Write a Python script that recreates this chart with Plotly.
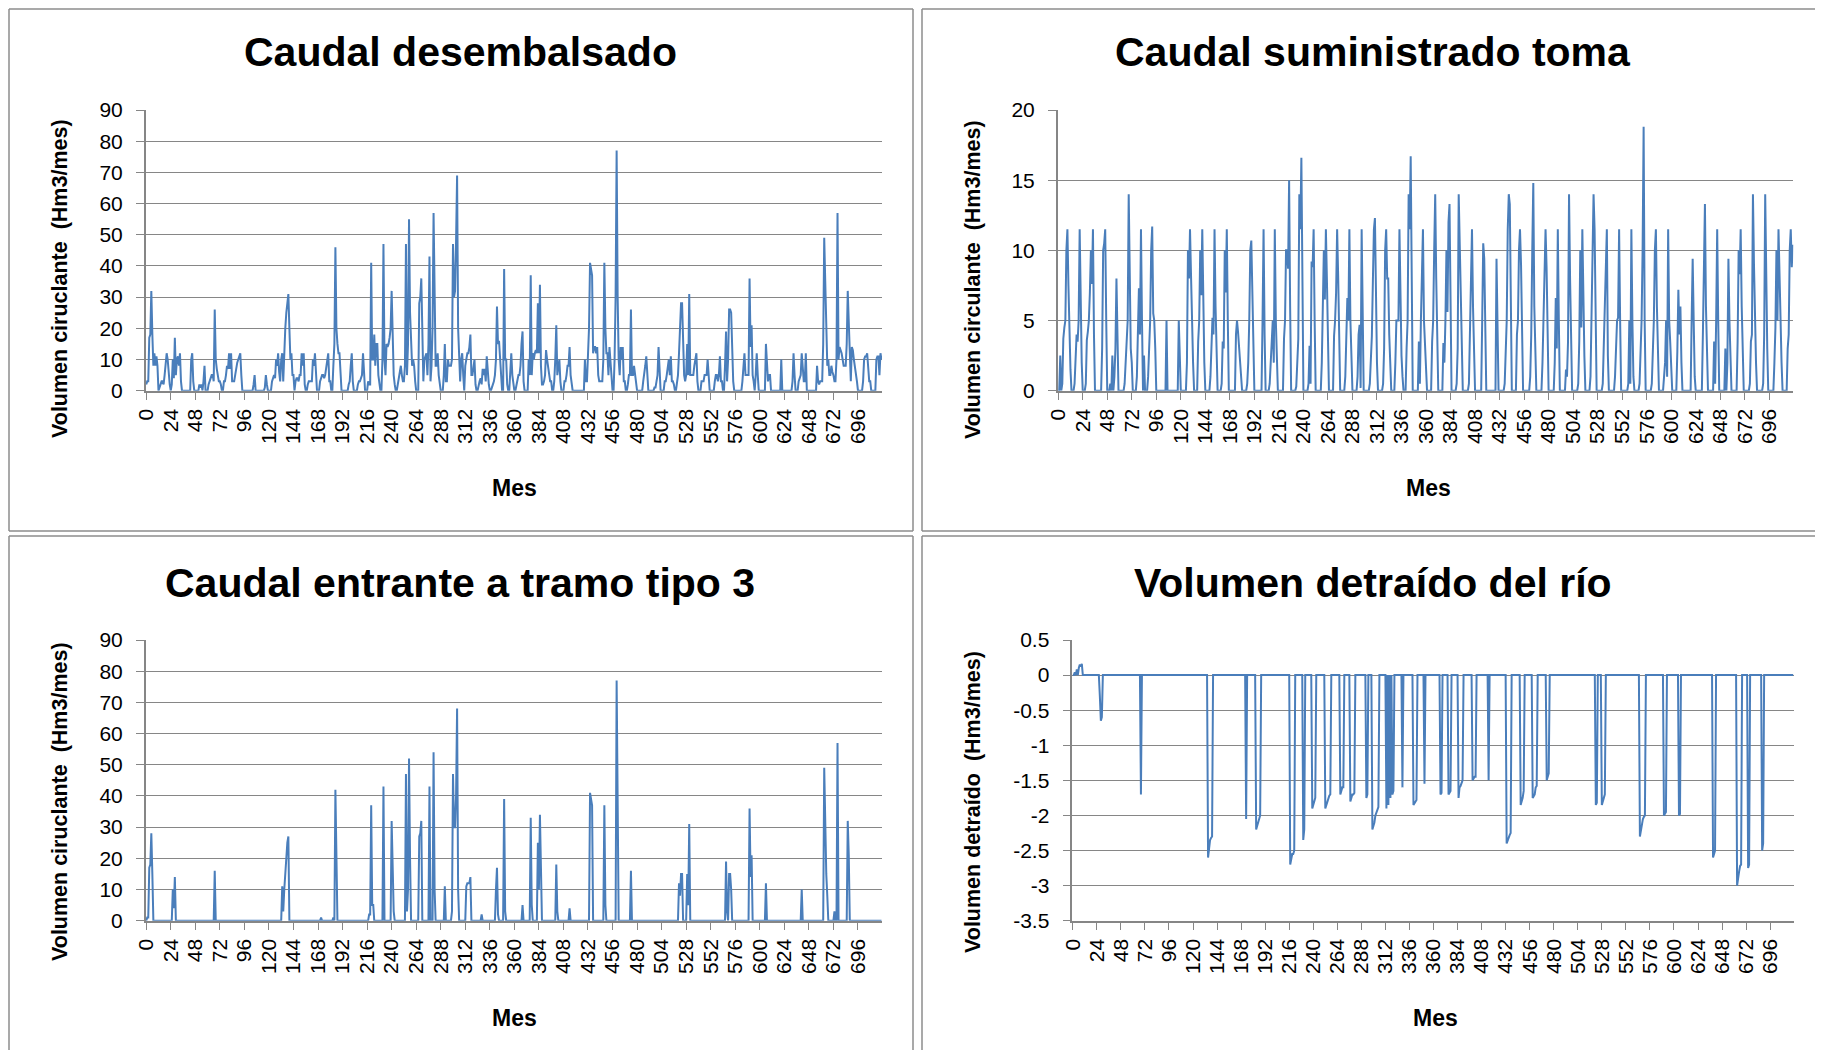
import plotly.graph_objects as go

# ---------------- data (monthly, 720 months) ----------------
meses = list(range(720))
tick_meses = list(range(0, 720, 24))

# Caudal desembalsado (Hm3/mes), 12 values per line = one year
caudal_desembalsado = [
    2, 3, 3, 17, 18, 32, 18, 8, 12, 8, 11, 8,
    0, 1, 2, 3, 3, 2, 5, 8, 12, 10, 5, 2,
    0, 2, 10, 4, 17, 5, 10, 11, 8, 12, 3, 0,
    0, 0, 0, 0, 0, 0, 0, 0, 10, 12, 3, 0,
    0, 0, 0, 0, 2, 1, 2, 0, 3, 8, 0, 0,
    0, 2, 3, 4, 5, 5, 3, 26, 10, 7, 5, 3,
    3, 2, 0, 0, 3, 3, 5, 8, 7, 12, 7, 12,
    3, 3, 3, 5, 8, 9, 10, 11, 12, 5, 0, 0,
    0, 0, 0, 0, 0, 0, 0, 0, 0, 2, 5, 0,
    0, 0, 0, 0, 0, 0, 0, 0, 1, 5, 2, 0,
    0, 0, 0, 3, 4, 5, 4, 10, 8, 12, 6, 3,
    10, 12, 3, 16, 20, 25, 28, 31, 20, 10, 12, 5,
    5, 0, 3, 4, 4, 3, 5, 5, 12, 8, 12, 2,
    0, 0, 2, 3, 3, 3, 3, 10, 8, 12, 5, 0,
    0, 0, 3, 4, 5, 5, 4, 5, 8, 10, 12, 3,
    3, 0, 0, 8, 15, 46, 20, 15, 12, 12, 5, 0,
    0, 0, 0, 0, 0, 0, 2, 3, 8, 12, 3, 0,
    0, 0, 0, 2, 3, 3, 4, 5, 12, 5, 0, 0,
    0, 3, 2, 2, 41, 10, 10, 18, 8, 15, 15, 5,
    3, 0, 0, 10, 47, 10, 5, 15, 14, 15, 17, 20,
    32, 20, 5, 2, 0, 0, 2, 3, 5, 8, 5, 3,
    3, 8, 47, 5, 15, 55, 25, 12, 8, 10, 8, 3,
    0, 0, 0, 28, 30, 36, 20, 3, 10, 11, 12, 5,
    15, 43, 3, 8, 20, 57, 30, 8, 8, 12, 5, 3,
    0, 0, 0, 5, 15, 3, 3, 10, 8, 8, 8, 10,
    47, 30, 32, 48, 69, 20, 8, 3, 10, 12, 5, 0,
    8, 11, 12, 12, 14, 18, 5, 5, 8, 10, 2, 0,
    0, 2, 3, 4, 2, 7, 5, 7, 3, 11, 5, 2,
    0, 0, 1, 2, 3, 5, 10, 27, 15, 16, 10, 3,
    0, 0, 39, 10, 10, 2, 0, 0, 5, 12, 5, 2,
    0, 0, 2, 3, 5, 5, 8, 15, 19, 3, 0, 0,
    0, 0, 10, 5, 37, 5, 12, 10, 12, 13, 12, 28,
    12, 34, 8, 2, 2, 3, 5, 13, 10, 8, 5, 3,
    3, 0, 0, 3, 10, 21, 5, 8, 10, 3, 0, 0,
    0, 3, 3, 5, 8, 8, 14, 5, 2, 0, 0, 0,
    0, 0, 0, 0, 0, 0, 0, 0, 0, 10, 3, 3,
    10, 20, 41, 38, 37, 12, 14, 14, 12, 14, 5, 3,
    3, 3, 3, 10, 41, 20, 12, 12, 5, 14, 10, 5,
    0, 0, 10, 30, 77, 30, 10, 5, 14, 10, 14, 3,
    3, 0, 0, 2, 5, 5, 26, 5, 5, 8, 5, 3,
    0, 0, 0, 0, 0, 0, 3, 5, 8, 11, 5, 0,
    0, 0, 0, 0, 0, 1, 1, 3, 5, 14, 3, 0,
    0, 0, 0, 3, 3, 5, 8, 10, 5, 11, 3, 3,
    2, 0, 0, 3, 5, 12, 20, 28, 28, 10, 5, 3,
    5, 15, 5, 31, 5, 5, 5, 5, 8, 10, 12, 3,
    0, 0, 0, 3, 3, 3, 5, 5, 5, 10, 3, 0,
    0, 0, 0, 0, 3, 5, 5, 3, 5, 11, 3, 3,
    0, 0, 8, 19, 3, 10, 26, 26, 25, 14, 3, 0,
    0, 0, 0, 0, 0, 0, 0, 3, 10, 12, 5, 5,
    5, 5, 36, 14, 21, 5, 3, 0, 5, 12, 5, 0,
    0, 0, 0, 0, 0, 0, 15, 10, 3, 5, 5, 0,
    0, 0, 0, 0, 0, 0, 0, 0, 0, 10, 0, 0,
    0, 0, 0, 0, 0, 0, 0, 0, 3, 12, 5, 0,
    0, 0, 3, 4, 5, 12, 5, 3, 3, 12, 0, 0,
    0, 0, 0, 0, 0, 0, 0, 0, 8, 3, 2, 3,
    3, 3, 15, 49, 35, 20, 8, 10, 5, 5, 8, 6,
    5, 3, 3, 10, 57, 10, 14, 13, 12, 10, 8, 8,
    8, 15, 32, 22, 10, 3, 14, 13, 10, 8, 5, 3,
    0, 0, 0, 0, 0, 3, 10, 11, 11, 12, 8, 3,
    3, 0, 0, 0, 0, 0, 10, 11, 11, 5, 12, 10,
]

# Caudal suministrado toma (Hm3/mes), one year per line
caudal_suministrado = [
    0, 0, 2.5, 0, 0.5, 3.7, 4.5, 5, 10, 11.5, 7.5, 3,
    1.5, 0, 0, 0, 0.5, 2.8, 4, 3.5, 5, 11.5, 6, 2,
    0, 0, 0, 0.5, 3.6, 4.2, 5, 7, 10, 7.6, 11.5, 4,
    0, 0, 0, 0, 0, 0, 0, 3, 10, 10.5, 11.5, 5,
    0, 0, 0, 0.5, 0, 2.5, 0, 1, 3, 8, 3, 0,
    0, 0, 0, 0, 0, 0.5, 2, 3.5, 5, 14, 8, 3,
    2, 0, 0, 0, 0, 1, 3.5, 7.3, 4, 11.5, 5, 0,
    2.5, 0, 0, 0, 1, 3.5, 5, 10, 11.7, 5.5, 5, 3,
    0, 0, 0, 0, 0, 0, 0, 0, 0, 0, 5, 0,
    0, 0, 0, 0, 0, 0, 0, 0, 0, 0, 5, 2.5,
    0, 0, 0, 0, 0, 0, 2, 10, 8, 11.5, 8.2, 4,
    2, 0, 0, 0, 0, 3.5, 5, 10, 6.8, 11.5, 5, 2,
    0, 0, 0, 0, 0, 1, 3, 5.2, 4, 11.5, 6, 2,
    0, 0, 0, 0, 0.5, 3.5, 3, 10, 7, 11.5, 5, 0,
    0, 0, 0, 0, 0, 0, 4, 5, 4.2, 3, 2, 1,
    0, 0, 0, 0, 0, 0.5, 2, 5, 10, 10.7, 6, 2,
    0, 0, 0, 0, 0, 0, 0, 0, 5, 11.5, 4, 0,
    0, 0, 0, 0.5, 2, 3.5, 5, 2, 11.5, 5, 2.5, 0,
    0, 0, 0, 0, 0, 3.7, 5, 10, 10, 8.7, 15, 6,
    0, 0, 0, 0, 0, 0.3, 2, 3.7, 14, 11.5, 16.6, 5,
    0, 0, 0, 0, 0, 0.5, 3.2, 0.5, 9.2, 8.8, 11.5, 5,
    0, 0, 0, 0, 0, 0, 2, 5, 10, 6.5, 11.5, 7.9,
    3, 0, 0, 0, 0, 0, 3.9, 5, 7, 11.5, 8.2, 3,
    0, 0, 0, 0, 0, 1, 4, 6.6, 5, 11.5, 5, 2,
    0, 0, 0, 0, 0, 1, 4, 4.7, 0.2, 11.5, 5, 0,
    0, 0, 0, 0, 0, 0.5, 2, 3.9, 7.8, 11.5, 12.3, 5,
    2, 0, 0, 0, 0, 0, 0.5, 3, 10, 11.5, 8, 8,
    4, 2, 0, 0, 0, 0, 2, 5, 5, 5, 11.5, 5,
    2.5, 1, 0, 0, 0, 3, 5, 14, 11.5, 16.7, 5, 0,
    0, 0, 0, 0, 0, 3.5, 0.5, 5, 10, 11.5, 5, 3,
    1.8, 0, 0, 0, 0, 0, 3.5, 5, 10, 14, 8, 4,
    0, 0, 0, 0, 0, 3.4, 2, 5, 10, 5.6, 12, 13.3,
    5, 0, 0, 0, 0, 0, 0.5, 3, 14, 10, 8, 4,
    0, 0, 0, 0, 0, 0, 0.5, 4, 10, 11.5, 6, 2,
    0, 0, 0, 0, 0, 0, 0, 5, 10.5, 9.4, 4, 0,
    0, 0, 0, 0, 0, 0, 0, 0, 0, 9.4, 4, 0,
    0, 0, 0, 0, 0, 0.5, 3.9, 5, 11.5, 14, 13.3, 6,
    0, 0, 0, 0, 0, 4, 5, 10, 11.5, 9, 5, 0,
    0, 0, 0, 0, 0, 0, 1, 4, 10, 14.8, 6, 2,
    0, 0, 0, 0, 0, 0, 2, 5, 10, 11.5, 8.8, 3,
    0, 0, 0, 0, 0, 0, 2, 6.6, 3, 11.5, 5, 0,
    0, 0, 0, 0, 0, 1.5, 1, 3.5, 14, 8, 4, 0,
    0, 0, 0, 0, 0, 0.5, 3.5, 10, 4.5, 11.5, 5, 2.5,
    0, 0, 0, 0, 0, 1, 5, 10, 14, 11.5, 5, 0,
    0, 0, 0, 0, 0, 0.5, 3, 5, 8, 11.5, 2.5, 0,
    0, 0, 0, 0, 0, 1, 3, 5, 5.2, 11.5, 5, 0,
    0, 0, 0, 0, 0, 0, 0.5, 5, 0.5, 11.5, 5, 1,
    0, 0, 0, 0, 0, 0.5, 3, 5, 10, 18.8, 5, 0,
    0, 0, 0, 0, 0, 0.5, 3, 5, 10, 11.5, 6, 2,
    0, 0, 0, 0, 0, 1, 2, 5, 1, 11.5, 5, 3.5,
    1, 0, 0, 0, 0, 0, 2.8, 7.2, 4, 6, 2, 0,
    0, 0, 0, 0, 0, 0, 0, 0, 5, 9.4, 5, 1,
    0, 0, 0, 0, 0, 0, 0, 4, 8, 13.3, 6, 2,
    0, 0, 0, 0, 0, 0, 3.5, 0.5, 5, 11.5, 5, 0,
    0, 0, 0, 0, 0, 3, 0, 2, 9.4, 5, 2, 0,
    0, 0, 0, 0, 0, 3.5, 10, 8.3, 11.5, 6, 2, 0,
    0, 0, 0, 0, 0, 0.5, 3.5, 4, 14, 9, 5, 2,
    0, 0, 0, 0, 0, 0, 0.5, 4, 14, 7, 3, 0,
    0, 0, 0, 0, 0, 2, 4.5, 10, 5, 11.5, 8, 4,
    2, 0, 0, 0, 0, 0, 3, 4, 10, 11.5, 8.8, 10.4,
]

# Caudal entrante a tramo tipo 3: months with flow (all other months are 0)
entrante_mes = [1, 2, 3, 4, 5, 6, 26, 27, 28, 67,
                133, 134, 135, 136, 137, 138, 139, 171, 183, 185, 186,
                218, 219, 220, 221, 222, 232, 240, 241, 242,
                254, 255, 256, 257, 258, 267, 268, 269, 277, 281, 282,
                292, 299, 300, 301, 302, 303, 304, 305,
                313, 314, 315, 316, 317, 328, 342, 343, 344, 350, 351,
                368, 376, 377, 383, 384, 385, 386, 401, 402, 414,
                434, 435, 436, 448, 449, 460, 461, 474,
                521, 522, 523, 524, 529, 530, 531,
                567, 568, 570, 571, 572, 590, 591, 592, 606, 641,
                663, 664, 665, 666, 673, 676, 686, 687]
entrante_val = [1, 1, 17, 18, 28, 15, 10, 4, 14, 16,
                11, 3, 10, 16, 22, 25, 27, 1, 1, 42, 15,
                2, 2, 37, 5, 5, 43, 32, 15, 3,
                47, 3, 10, 52, 20, 27, 28, 32, 43, 54, 10,
                11, 3, 47, 30, 30, 40, 68, 10,
                11, 12, 12, 12, 14, 2, 10, 17, 2, 39, 3,
                5, 33, 5, 25, 10, 34, 8, 18, 3, 4,
                41, 38, 37, 37, 5, 77, 30, 16,
                12, 8, 15, 15, 15, 5, 31,
                19, 3, 15, 15, 10, 36, 14, 21, 12, 10,
                49, 30, 15, 8, 3, 57, 32, 21]

# Volumen detraido del rio: months with a non-zero value (all other months are 0)
detraido_mes = [2, 4, 6, 7, 8, 9, 27, 28, 29, 68,
                135, 136, 137, 138, 139, 173, 183, 184, 185, 186, 187,
                217, 218, 219, 220, 221, 230, 231, 239, 240, 241, 242,
                252, 253, 254, 255, 256, 257, 267, 268, 269, 270,
                277, 278, 279, 280, 281, 293, 294,
                299, 300, 301, 302, 303, 304, 305,
                313, 315, 317, 319, 320, 329, 340, 341, 342, 343, 351,
                367, 368, 375, 376, 377, 385, 386, 387, 388, 389,
                399, 400, 401, 402, 415, 433, 434, 435, 436, 437,
                447, 448, 449, 450, 459, 460, 461, 462, 463, 473, 474, 475,
                522, 523, 528, 529, 530, 531,
                566, 567, 568, 569, 570, 571, 590, 591, 592, 605, 606,
                639, 640, 641, 663, 664, 665, 666, 667, 674, 675, 688, 689]
detraido_val = [0.04, 0.08, 0.1, 0.15, 0.12, 0.16, -0.3, -0.65, -0.6, -1.7,
                -2.6, -2.4, -2.35, -2.32, -2.3, -2.05, -2.2, -2.15, -2.1, -2.05, -2.0,
                -2.7, -2.6, -2.55, -2.55, -2.5, -2.35, -2.2, -1.9, -1.85, -1.8, -1.75,
                -1.9, -1.85, -1.8, -1.75, -1.72, -1.7, -1.7, -1.65, -1.6, -1.6,
                -1.8, -1.75, -1.7, -1.7, -1.68, -1.75, -1.7,
                -2.2, -2.15, -2.1, -2.0, -1.95, -1.9, -1.88,
                -1.9, -1.85, -1.75, -1.7, -1.65, -1.6, -1.85, -1.82, -1.8, -1.78, -1.55,
                -1.7, -1.68, -1.7, -1.68, -1.65, -1.75, -1.6, -1.58, -1.55, -1.5,
                -1.5, -1.48, -1.45, -1.45, -1.5, -2.4, -2.35, -2.3, -2.28, -2.25,
                -1.85, -1.8, -1.75, -1.65, -1.75, -1.72, -1.7, -1.6, -1.58, -1.5, -1.45, -1.4,
                -1.85, -1.82, -1.85, -1.78, -1.75, -1.7,
                -2.3, -2.2, -2.1, -2.05, -2.02, -2.0, -2.0, -1.97, -1.95, -2.0, -1.98,
                -2.6, -2.55, -2.5, -3.0, -2.85, -2.8, -2.72, -2.7, -2.75, -2.7, -2.5, -2.4]

# y-axis tick values / labels of each panel
ticks_caudal_90 = [0, 10, 20, 30, 40, 50, 60, 70, 80, 90]
ticks_toma = [0, 5, 10, 15, 20]
ticks_detraido = [0.5, 0, -0.5, -1, -1.5, -2, -2.5, -3, -3.5]

caudal_entrante = [0.0] * len(meses)
for m, v in zip(entrante_mes, entrante_val):
    caudal_entrante[m] = v
volumen_detraido = [0.0] * len(meses)
for m, v in zip(detraido_mes, detraido_val):
    volumen_detraido[m] = v

# ---------------- layout helpers ----------------
# The page body keeps the browser's default 8px margin, so the figure is made
# 16px smaller than the window and every position is given in window pixels.
PAGE_W, PAGE_H = 1823, 1058
OFF = 8
W, H = PAGE_W - 2 * OFF, PAGE_H - 2 * OFF
LINE = "#4A7EBB"
GRID = "#868686"
FRAME = "#8C8C8C"
FONT = "Liberation Sans"


def px_x(x):
    return (x - OFF) / W


def px_y(y):
    return 1 - (y - OFF) / H


def label(v):
    return ("%g" % v).replace("\u2212", "-")


panels = [
    # (values, title, ytitle, yticks, x0, x1, ytop, ybot, title_xy, ytitle_xy, mes_xy)
    (caudal_desembalsado, "Caudal desembalsado", "Volumen ciruclante  (Hm3/mes)",
     ticks_caudal_90, 145.7, 882, 110, 390.7, (460, 52), (60, 279), (515, 488)),
    (caudal_suministrado, "Caudal suministrado toma", "Volumen circulante  (Hm3/mes)",
     ticks_toma, 1057.7, 1793.3, 110, 390.7, (1373, 52), (973, 279), (1428, 488)),
    (caudal_entrante, "Caudal entrante a tramo tipo 3", "Volumen ciruclante  (Hm3/mes)",
     ticks_caudal_90, 145.7, 882, 640, 920.7, (460, 583), (60, 802), (515, 1018)),
    (volumen_detraido, "Volumen detraído del río", "Volumen detraído  (Hm3/mes)",
     ticks_detraido, 1072.3, 1793.7, 640, 920.7, (1373, 583), (973, 802), (1435, 1018)),
]

fig = go.Figure()
annotations = []
shapes = []

for i, (vals, title, ytitle, yt_vals, x0, x1, yt, yb, txy, yxy, mxy) in enumerate(panels, start=1):
    suffix = "" if i == 1 else str(i)
    fig.add_trace(go.Scatter(
        x=meses, y=vals, mode="lines",
        line=dict(color=LINE, width=2),
        xaxis="x" + suffix, yaxis="y" + suffix, showlegend=False,
        hoverinfo="x+y",
    ))
    fig.layout["xaxis" + suffix] = dict(
        domain=[px_x(x0), px_x(x1)], anchor="y" + suffix, automargin=False,
        range=[-0.5, 719.5], tickmode="array", tickvals=tick_meses,
        ticktext=[str(t) for t in tick_meses], tickangle=-90,
        ticks="outside", ticklen=8, tickcolor=GRID, tickwidth=1.2,
        showline=True, linecolor=GRID, linewidth=1.5, showgrid=False,
        zeroline=False, tickfont=dict(family=FONT, size=21, color="black"),
        fixedrange=True,
    )
    fig.layout["yaxis" + suffix] = dict(
        domain=[px_y(yb), px_y(yt)], anchor="x" + suffix, automargin=False,
        range=[min(yt_vals), max(yt_vals)], tickmode="array", tickvals=yt_vals,
        ticktext=[label(v) for v in yt_vals], ticks="outside", ticklen=8,
        ticklabelstandoff=9,
        tickcolor=GRID, tickwidth=1.2, showline=True, linecolor=GRID, linewidth=1.5,
        showgrid=True, gridcolor=GRID, gridwidth=1.4, zeroline=False,
        tickfont=dict(family=FONT, size=21, color="black"), fixedrange=True,
    )
    annotations.append(dict(
        text="<b>%s</b>" % title, x=px_x(txy[0]), y=px_y(txy[1]), xref="paper", yref="paper",
        showarrow=False, xanchor="center", yanchor="middle",
        font=dict(family=FONT, size=41, color="black"),
    ))
    annotations.append(dict(
        text="<b>%s</b>" % ytitle, x=px_x(yxy[0]), y=px_y(yxy[1]), xref="paper", yref="paper",
        showarrow=False, xanchor="center", yanchor="middle", textangle=-90,
        font=dict(family=FONT, size=21.5, color="black"),
    ))
    annotations.append(dict(
        text="<b>Mes</b>", x=px_x(mxy[0]), y=px_y(mxy[1]), xref="paper", yref="paper",
        showarrow=False, xanchor="center", yanchor="middle",
        font=dict(family=FONT, size=23, color="black"),
    ))


def frame_line(xa, ya, xb, yb):
    shapes.append(dict(type="line", xref="paper", yref="paper",
                       x0=px_x(xa), y0=px_y(ya), x1=px_x(xb), y1=px_y(yb),
                       line=dict(color=FRAME, width=1.5)))


# chart-area frames (window pixels); frames cut by the window edge are left open
RIGHT = OFF + W + 5
BOTTOM = OFF + H + 5
TOP = OFF + 0.9          # first visible row of the figure
# top-left chart: full frame
frame_line(9, TOP, 913, TOP)
frame_line(9, 531, 913, 531)
frame_line(9, TOP, 9, 531)
frame_line(913, TOP, 913, 531)
# top-right chart: top, bottom, left
frame_line(922, TOP, RIGHT, TOP)
frame_line(922, 531, RIGHT, 531)
frame_line(922, TOP, 922, 531)
# bottom-left chart: top, left, right
frame_line(9, 536, 913, 536)
frame_line(9, 536, 9, BOTTOM)
frame_line(913, 536, 913, BOTTOM)
# bottom-right chart: top, left
frame_line(922, 536, RIGHT, 536)
frame_line(922, 536, 922, BOTTOM)

fig.update_layout(
    width=W, height=H, margin=dict(l=0, r=0, t=0, b=0, pad=0, autoexpand=False),
    paper_bgcolor="white", plot_bgcolor="white",
    annotations=annotations, shapes=shapes, showlegend=False,
    font=dict(family=FONT, color="black"),
)

fig.write_html("out.html", config={"displayModeBar": False})
